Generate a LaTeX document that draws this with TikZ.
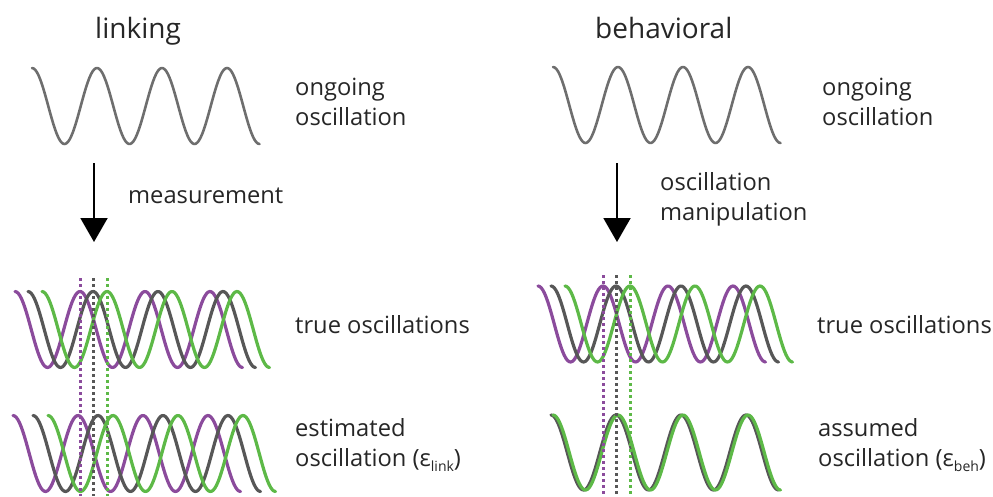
\documentclass[tikz,border=0pt]{standalone}
\usepackage{fontspec}
\setmainfont{Open Sans}
\usetikzlibrary{arrows.meta}
\definecolor{wgray}{HTML}{6E6E6E}
\definecolor{dgray}{HTML}{575757}
\definecolor{pur}{HTML}{8B4B9C}
\definecolor{grn}{HTML}{5DB947}
\newcommand\wavecurve[4]{%
  \pgfmathsetmacro\wend{#1+227.5}%
  \draw[#4] plot[domain=#1:\wend, samples=140] (\x, {#2 - #3*cos(5.53846*(\x-#1))});}
\tikzset{
  wave/.style={line width=3.2pt, line cap=round, line join=round},
  topwave/.style={wave, line width=2.6pt, wgray},
  dots/.style={line width=3pt, dash pattern=on 3pt off 3pt},
  arr/.style={line width=2pt, -{Triangle[width=27pt,length=24pt]}},
  lbl/.style={anchor=base west, align=left, inner sep=0pt, font=\fontsize{23.7}{30}\selectfont, text=black!85},
  ttl/.style={anchor=base west, inner sep=0pt, font=\fontsize{28}{32}\selectfont, text=black!85}
}
\begin{document}
\begin{tikzpicture}[x=1pt, y=-1pt]
\useasboundingbox (0,0) rectangle (993,496);
% titles
\node[ttl] (t1) at (95,38) {linking};
\node[ttl] (t2) at (595,38) {behavioral};
% top waves
\wavecurve{32}{106}{38}{topwave}
\wavecurve{553}{105}{38}{topwave}
\node[lbl] (l1) at (295,125) {ongoing\\oscillation};
\node[lbl] (r1) at (822,125) {ongoing\\oscillation};
% arrows
\coordinate (a1s) at (94,163); \coordinate (a1e) at (94,242);
\coordinate (a2s) at (617,163); \coordinate (a2e) at (617,242);
\draw[arr] (a1s) -- (a1e);
\draw[arr] (a2s) -- (a2e);
\node[lbl] (m1) at (128,203) {measurement};
\node[lbl] (m2) at (660,220) {oscillation\\manipulation};
% left true
\wavecurve{15}{329.5}{38}{wave,pur}
\wavecurve{28}{329.5}{38}{wave,dgray}
\wavecurve{42}{329.5}{38}{wave,grn}
% left estimated
\wavecurve{13}{453.5}{38}{wave,pur}
\wavecurve{33}{453.5}{38}{wave,dgray}
\wavecurve{48}{453.5}{38}{wave,grn}
% right true
\wavecurve{538}{324}{38}{wave,pur}
\wavecurve{551}{324}{38}{wave,dgray}
\wavecurve{565}{324}{38}{wave,grn}
% right assumed
\wavecurve{551}{452.5}{37.5}{wave,dgray}
\wavecurve{553}{452.5}{37.5}{wave,grn}
% dotted lines
\coordinate (d1s) at (80,278); \coordinate (d1e) at (80,496);
\coordinate (d2s) at (93,278); \coordinate (d2e) at (93,496);
\coordinate (d3s) at (107,278); \coordinate (d3e) at (107,496);
\coordinate (d4s) at (603,275); \coordinate (d4e) at (603,496);
\coordinate (d5s) at (616,275); \coordinate (d5e) at (616,496);
\coordinate (d6s) at (630,275); \coordinate (d6e) at (630,496);
\draw[dots,pur] (d1s) -- (d1e);
\draw[dots,dgray] (d2s) -- (d2e);
\draw[dots,grn] (d3s) -- (d3e);
\draw[dots,pur] (d4s) -- (d4e);
\draw[dots,dgray] (d5s) -- (d5e);
\draw[dots,grn] (d6s) -- (d6e);
% labels
\node[lbl] (l2) at (295,333) {true oscillations};
\node[lbl] (r2) at (817,333) {true oscillations};
\node[lbl] (l3) at (295,466) {estimated\\oscillation (ε\raisebox{-5pt}{\fontsize{14}{14}\selectfont link})};
\node[lbl] (r3) at (818,466) {assumed\\oscillation (ε\raisebox{-5pt}{\fontsize{14}{14}\selectfont beh})};
\end{tikzpicture}
\end{document}
